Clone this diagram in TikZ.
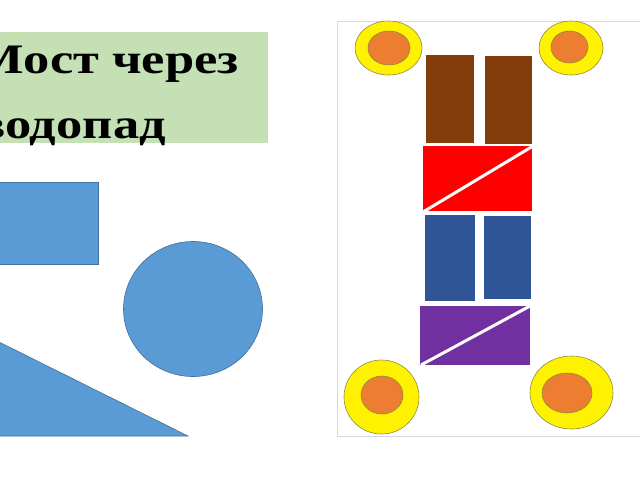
\documentclass[tikz,border=0pt]{standalone}
\usepackage{graphicx}
\usepackage{fontspec}
\setmainfont{Liberation Serif}
\definecolor{greenbg}{HTML}{C5E0B4}
\definecolor{lblue}{HTML}{5B9BD5}
\definecolor{lblueedge}{HTML}{41719C}
\definecolor{brownc}{HTML}{843C0C}
\definecolor{darkblue}{HTML}{2F5597}
\definecolor{purplec}{HTML}{7030A0}
\definecolor{orangec}{HTML}{ED7D31}
\definecolor{wheeledge}{HTML}{8C8C3C}
\definecolor{panelgray}{HTML}{D9D9D9}
\newcommand{\widetitle}[1]{\scalebox{1.25}[1]{#1}}
\tikzset{
  bluepiece/.style={fill=lblue,draw=lblueedge,line width=0.6pt},
  tyre/.style={fill=yellow,draw=wheeledge,line width=0.6pt},
  hub/.style={fill=orangec,draw=wheeledge,line width=0.6pt},
  cutline/.style={draw=white,line width=3pt},
  titletext/.style={font=\fontsize{42}{50}\selectfont\bfseries,inner sep=0pt,anchor=base east}
}
\begin{document}
\begin{tikzpicture}[x=1pt,y=-1pt]
\useasboundingbox (0,0) rectangle (640,480);
\clip (0,0) rectangle (640,480);
\fill[white] (0,0) rectangle (640,480);
% title box
\fill[greenbg] (-5,32) rectangle (268,143);
\node[titletext] (line1) at (239,73) {\widetitle{Мост через}};
\node[titletext] (line2) at (166,138) {\widetitle{водопад}};
% blue shapes
\draw[bluepiece] (-5,182) rectangle (98,264);
\draw[bluepiece] (193,309) ellipse [x radius=69.5, y radius=67.5];
\draw[bluepiece] (-5,340) -- (188,436) -- (-5,436) -- cycle;
% right panel
\draw[panelgray,line width=1pt] (337,21) rectangle (660,436);
% wheels
\draw[tyre] (388.5,48) ellipse [x radius=33.5, y radius=27];
\draw[hub] (389,48) ellipse [x radius=21, y radius=17];
\draw[tyre] (571,48) ellipse [x radius=32, y radius=27];
\draw[hub] (569.5,47) ellipse [x radius=18.5, y radius=16];
\draw[tyre] (381.5,397) ellipse [x radius=37.5, y radius=37];
\draw[hub] (382,395) ellipse [x radius=21, y radius=19];
\draw[tyre] (571.5,392.5) ellipse [x radius=41.5, y radius=36.5];
\draw[hub] (567,393) ellipse [x radius=25, y radius=20];
% brown
\fill[brownc] (426,55) rectangle (474,143);
\fill[brownc] (485,56) rectangle (532,144);
% red
\fill[red] (423,146) rectangle (532,211);
\draw[cutline] (423,212) -- (533,146);
% dark blue
\fill[darkblue] (425,215) rectangle (475,301);
\fill[darkblue] (484,216) rectangle (531,299);
% purple
\fill[purplec] (420,306) rectangle (530,365);
\draw[cutline] (421,365) -- (530,306);
\end{tikzpicture}
\end{document}
